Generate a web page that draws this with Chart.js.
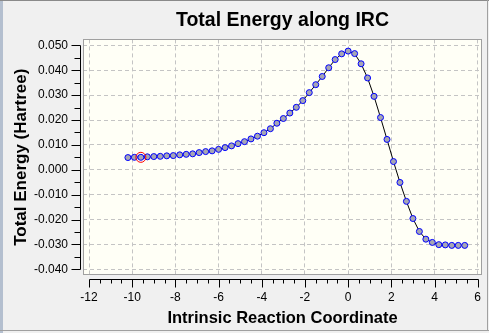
<!DOCTYPE html>
<html>
<head>
<meta charset="utf-8">
<title>Total Energy along IRC</title>
<script src="https://cdn.jsdelivr.net/npm/chart.js@4.4.1/dist/chart.umd.min.js"></script>
<style>
  html, body { margin: 0; padding: 0; background: #f0f0f0; }
  #wrap { width: 489px; height: 333px; position: relative; }
</style>
</head>
<body>
<div id="wrap"><canvas id="ircChart" width="489" height="333"></canvas></div>
<script>
// IRC 坐标
var ircCoord = [
  -10.2, -9.9, -9.6, -9.3, -9.0, -8.7, -8.4, -8.1, -7.8, -7.5,
  -7.2, -6.9, -6.6, -6.3, -6.0, -5.7, -5.4, -5.1, -4.8, -4.5,
  -4.2, -3.9, -3.6, -3.3, -3.0, -2.7, -2.4, -2.1, -1.8, -1.5,
  -1.2, -0.9, -0.6, -0.3, 0.0, 0.3, 0.6, 0.9, 1.2, 1.5,
  1.8, 2.1, 2.4, 2.7, 3.0, 3.3, 3.6, 3.9, 4.2, 4.5,
  4.8, 5.1, 5.4
];
// 总能量 (Hartree)
var totalEnergy = [
  0.0049, 0.0050, 0.0050, 0.0052, 0.0053, 0.0054, 0.0056, 0.0057, 0.0060, 0.0062,
  0.0064, 0.0069, 0.0073, 0.0076, 0.0082, 0.0089, 0.0096, 0.0105, 0.0113, 0.0124,
  0.0135, 0.0149, 0.0165, 0.0187, 0.0206, 0.0228, 0.0251, 0.0278, 0.0310, 0.0342,
  0.0375, 0.0410, 0.0443, 0.0466, 0.0477, 0.0467, 0.0426, 0.0369, 0.0295, 0.0210,
  0.0122, 0.0033, -0.0051, -0.0127, -0.0196, -0.0248, -0.0279, -0.0292, -0.0301, -0.0302,
  -0.0304, -0.0304, -0.0304
];
// 当前结构所在的点
var currentIndex = 2;

// 刻度
var xTicks = [-12, -10, -8, -6, -4, -2, 0, 2, 4, 6];
var yTicks = [-0.04, -0.03, -0.02, -0.01, 0.00, 0.01, 0.02, 0.03, 0.04, 0.05];

var points = ircCoord.map(function (x, i) { return { x: x, y: totalEnergy[i] }; });

// 绘图区背景、边框以及和绘图区分开的坐标轴
var framePlugin = {
  id: 'frame',
  beforeDraw: function (chart) {
    var c = chart.ctx, a = chart.chartArea;
    c.save();
    c.fillStyle = '#f0f0f0';
    c.fillRect(0, 0, chart.width, chart.height);
    // 窗口边框
    c.fillStyle = '#b4bfcf';
    c.fillRect(0, 0, 3, chart.height);
    c.fillStyle = '#8a8a8a';
    c.fillRect(0, 0, chart.width, 1);
    c.fillStyle = '#a0a0a0';
    c.fillRect(0, 330, chart.width, 1);
    c.fillRect(487, 0, 1, 331);
    // 绘图区
    c.fillStyle = '#fffff6';
    c.fillRect(a.left, a.top, a.right - a.left, a.bottom - a.top);
    c.restore();
  },
  beforeDatasetsDraw: function (chart) {
    var c = chart.ctx, a = chart.chartArea;
    c.save();
    c.strokeStyle = '#a0a0a0';
    c.lineWidth = 1;
    c.strokeRect(Math.round(a.left) + 0.5, Math.round(a.top) + 0.5,
      Math.round(a.right - a.left) - 1, Math.round(a.bottom - a.top) - 1);
    c.restore();
  },
  afterDraw: function (chart) {
    var c = chart.ctx, a = chart.chartArea;
    var xs = chart.scales.x, ys = chart.scales.y;
    var ax = Math.round(a.left) - 2.5;
    var ay = Math.round(a.bottom) + 4.5;
    c.save();
    c.strokeStyle = '#000';
    c.lineWidth = 1;
    c.beginPath();
    // Y 轴
    var yTop = Math.round(ys.getPixelForValue(yTicks[yTicks.length - 1])) + 0.5;
    var yBot = Math.round(ys.getPixelForValue(yTicks[0])) + 0.5;
    c.moveTo(ax, yTop); c.lineTo(ax, yBot);
    for (var v = yTicks[0]; v <= yTicks[yTicks.length - 1] + 1e-9; v += 0.005) {
      var py = Math.round(ys.getPixelForValue(v)) + 0.5;
      var major = Math.abs(Math.round(v * 200)) % 2 === 0;
      c.moveTo(ax - (major ? 9 : 6), py); c.lineTo(ax, py);
    }
    // X 轴
    var xL = Math.round(xs.getPixelForValue(xTicks[0])) + 0.5;
    var xR = Math.round(xs.getPixelForValue(xTicks[xTicks.length - 1])) + 0.5;
    c.moveTo(xL, ay); c.lineTo(xR, ay);
    for (var u = xTicks[0]; u <= xTicks[xTicks.length - 1] + 1e-9; u += 0.5) {
      var px = Math.round(xs.getPixelForValue(u)) + 0.5;
      var isMajor = Math.abs(Math.round(u * 2)) % 4 === 0;
      c.moveTo(px, ay); c.lineTo(px, ay + (isMajor ? 8 : 4));
    }
    c.stroke();
    c.restore();
  }
};

var ctx = document.getElementById('ircChart').getContext('2d');
var ircChart = new Chart(ctx, {
  type: 'scatter',
  data: {
    datasets: [{
      label: 'current',
      data: [points[currentIndex]],
      showLine: false,
      pointRadius: 5,
      pointBorderWidth: 1,
      pointBorderColor: '#ff0000',
      pointBackgroundColor: 'rgba(0,0,0,0)',
      order: 0
    }, {
      label: 'IRC',
      data: points,
      showLine: true,
      borderColor: '#000000',
      borderWidth: 1,
      tension: 0,
      pointRadius: 3,
      pointBorderWidth: 1,
      pointBorderColor: '#0000ff',
      pointBackgroundColor: '#a6a6b4',
      order: 1
    }]
  },
  options: {
    responsive: false,
    animation: false,
    devicePixelRatio: 1,
    layout: { padding: { left: 0, top: 0, right: 7, bottom: 0 } },
    plugins: {
      legend: { display: false },
      tooltip: { enabled: false },
      title: {
        display: true,
        text: 'Total Energy along IRC',
        color: '#000',
        fullSize: false,
        font: { family: '"Liberation Sans", Arial, sans-serif', size: 19.5, weight: 'bold' },
        padding: { top: 9, bottom: 7 }
      }
    },
    scales: {
      x: {
        type: 'linear',
        min: -12.28,
        max: 6.2,
        afterFit: function (s) { s.height = 58; s.paddingLeft = 0; s.paddingRight = 0; },
        afterBuildTicks: function (s) { s.ticks = xTicks.map(function (v) { return { value: v }; }); },
        ticks: {
          autoSkip: false,
          maxRotation: 0,
          padding: 15,
          color: '#000',
          font: { family: '"Liberation Sans", Arial, sans-serif', size: 12 },
          callback: function (v) { return String(v); }
        },
        grid: { color: '#c4c4c4', lineWidth: 1, drawTicks: false },
        border: { display: false, dash: [4, 3] },
        title: {
          display: true,
          text: 'Intrinsic Reaction Coordinate',
          color: '#000',
          font: { family: '"Liberation Sans", Arial, sans-serif', size: 16.5, weight: 'bold' },
          padding: { top: 0, bottom: 5 }
        }
      },
      y: {
        type: 'linear',
        min: -0.0423,
        max: 0.0524,
        afterFit: function (s) { s.width = 83; s.paddingTop = 0; s.paddingBottom = 0; },
        afterBuildTicks: function (s) { s.ticks = yTicks.map(function (v) { return { value: v }; }); },
        ticks: {
          autoSkip: false,
          padding: 15,
          color: '#000',
          font: { family: '"Liberation Sans", Arial, sans-serif', size: 12 },
          callback: function (v) { return Number(v).toFixed(3); }
        },
        grid: { color: '#c4c4c4', lineWidth: 1, drawTicks: false },
        border: { display: false, dash: [4, 3] },
        title: {
          display: true,
          text: 'Total Energy (Hartree)',
          color: '#000',
          font: { family: '"Liberation Sans", Arial, sans-serif', size: 17, weight: 'bold' },
          padding: { top: 11, bottom: 0 }
        }
      }
    }
  },
  plugins: [framePlugin]
});
</script>
</body>
</html>
